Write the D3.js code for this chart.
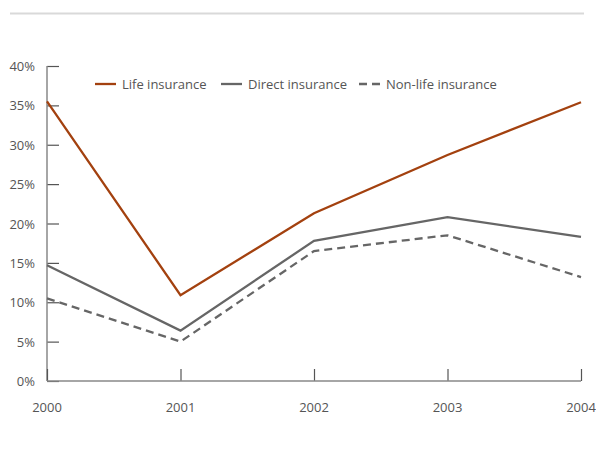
<!DOCTYPE html>
<html>
<head>
<meta charset="utf-8">
<script src="https://cdn.jsdelivr.net/npm/d3@7"></script>
<style>
  body { margin: 0; background: #fff; }
  svg text { font-family: "Open Sans", sans-serif; fill: #555; }
</style>
</head>
<body>
<svg id="chart" width="596" height="449"></svg>
<script>
const years = [2000, 2001, 2002, 2003, 2004];
const lifeInsurance = [35.5, 10.9, 21.3, 28.7, 35.4];
const directInsurance = [14.7, 6.4, 17.8, 20.8, 18.3];
const nonLifeInsurance = [10.5, 5.0, 16.5, 18.5, 13.2];
const yTicks = [0, 5, 10, 15, 20, 25, 30, 35, 40];

const series = [
  { name: "Life insurance", values: lifeInsurance, color: "#a3410f", dash: null },
  { name: "Direct insurance", values: directInsurance, color: "#666", dash: null },
  { name: "Non-life insurance", values: nonLifeInsurance, color: "#666", dash: "8,5" }
];

const svg = d3.select("#chart");

// grey rule at top
svg.append("line")
  .attr("x1", 10).attr("x2", 584)
  .attr("y1", 13.5).attr("y2", 13.5)
  .attr("stroke", "#d9d9d9").attr("stroke-width", 2);

const x = d3.scaleLinear().domain([2000, 2004]).range([47, 581]);
const y = d3.scaleLinear().domain([0, 40]).range([381, 66]);

const yAxis = svg.append("g")
  .attr("transform", "translate(47,0)")
  .call(d3.axisRight(y).tickValues(yTicks).tickSize(12).tickFormat(""));
yAxis.select(".domain").remove();
yAxis.selectAll("line").attr("stroke", "#555").attr("stroke-width", 1.2);

svg.append("line")
  .attr("x1", 47).attr("x2", 47)
  .attr("y1", 66).attr("y2", 381)
  .attr("stroke", "#888").attr("stroke-width", 1.5);

svg.selectAll(".ylab")
  .data(yTicks)
  .enter().append("text")
  .attr("class", "ylab")
  .attr("x", 35)
  .attr("y", d => y(d) + 5)
  .attr("text-anchor", "end")
  .style("font-size", "13px")
  .text(d => d + "%");

const xAxis = svg.append("g")
  .attr("transform", "translate(0,381)")
  .call(d3.axisTop(x).tickValues(years).tickSize(12).tickFormat(""));
xAxis.select(".domain").remove();
xAxis.selectAll("line").attr("stroke", "#555").attr("stroke-width", 1.2);

svg.append("line")
  .attr("x1", 47).attr("x2", 581)
  .attr("y1", 381).attr("y2", 381)
  .attr("stroke", "#888").attr("stroke-width", 1.5);

svg.selectAll(".xlab")
  .data(years)
  .enter().append("text")
  .attr("class", "xlab")
  .attr("x", d => x(d))
  .attr("y", 412)
  .attr("text-anchor", "middle")
  .style("font-size", "13px")
  .text(d => d);

const line = d3.line()
  .x((d, i) => x(years[i]))
  .y(d => y(d));

svg.selectAll(".series")
  .data(series)
  .enter().append("path")
  .attr("class", "series")
  .attr("d", d => line(d.values))
  .attr("fill", "none")
  .attr("stroke", d => d.color)
  .attr("stroke-width", 2.3)
  .attr("stroke-dasharray", d => d.dash);

// legend
const legendX = [95, 221, 359];
const legend = svg.selectAll(".legend")
  .data(series)
  .enter().append("g")
  .attr("class", "legend")
  .attr("transform", (d, i) => `translate(${legendX[i]},84)`);

legend.append("line")
  .attr("x1", 0).attr("x2", 21)
  .attr("y1", 0).attr("y2", 0)
  .attr("stroke", d => d.color)
  .attr("stroke-width", 2.3)
  .attr("stroke-dasharray", d => d.dash);

legend.append("text")
  .attr("x", 27)
  .attr("y", 5)
  .style("font-size", "13px")
  .text(d => d.name);
</script>
</body>
</html>
